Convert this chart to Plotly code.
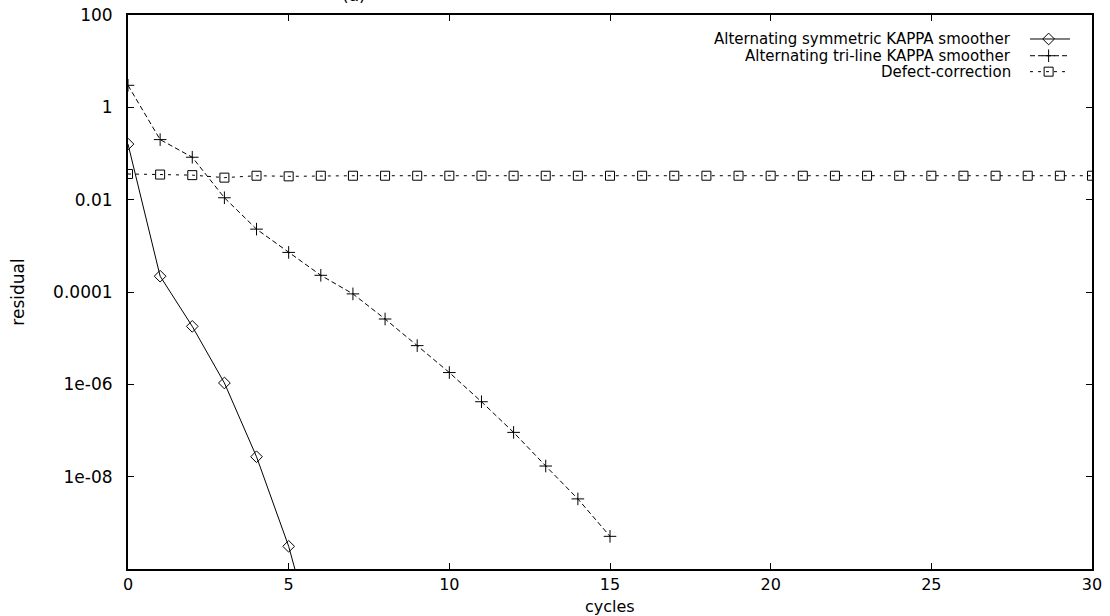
import plotly.graph_objects as go

# ---- data ----
cycles_sym = [0, 1, 2, 3, 4, 5, 6]
res_sym = [0.16, 2.2e-4, 1.8e-5, 1.07e-6, 2.7e-8, 3.1e-10, 9e-13]

cycles_tri = list(range(0, 16))
res_tri = [3.0, 0.20, 0.083, 0.011, 2.3e-3, 7.2e-4, 2.3e-4, 9.1e-5, 2.6e-5,
           6.9e-6, 1.8e-6, 4.2e-7, 9.1e-8, 1.7e-8, 3.3e-9, 5.1e-10]

cycles_def = list(range(0, 31))
res_def = [0.036, 0.035, 0.034, 0.030, 0.033, 0.032, 0.033, 0.033, 0.033, 0.033,
           0.033, 0.033, 0.033, 0.033, 0.033, 0.033, 0.033, 0.033, 0.033, 0.033,
           0.033, 0.033, 0.033, 0.033, 0.033, 0.033, 0.033, 0.033, 0.033, 0.033, 0.033]

series_names = ["Alternating symmetric KAPPA smoother",
                "Alternating tri-line KAPPA smoother",
                "Defect-correction"]

x_ticks = [0, 5, 10, 15, 20, 25, 30]
y_tickvals = [100, 1, 0.01, 1e-4, 1e-6, 1e-8]
y_ticktext = ["100", "1", "0.01", "0.0001", "1e-06", "1e-08"]

# ---- styling ----
FONT = "DejaVu Sans"
FS = 17
XFS = 16
KEY_FS = 15
styles = [
    dict(dash="solid", symbol="diamond-open", size=9),
    dict(dash="5px,3px", symbol="cross-thin-open", size=9),
    dict(dash="3px,5px", symbol="square-open", size=9),
]

fig = go.Figure()
for (xs, ys), name, st in zip([(cycles_sym, res_sym), (cycles_tri, res_tri), (cycles_def, res_def)],
                              series_names, styles):
    fig.add_trace(go.Scatter(
        x=xs, y=ys, mode="lines+markers", name=name, showlegend=False,
        line=dict(color="black", width=1, dash=st["dash"]),
        marker=dict(symbol=st["symbol"], size=st["size"], color="black",
                    line=dict(color="black", width=1)),
        cliponaxis=True,
    ))

# ---- gnuplot-style key (text left of sample) on an overlay axis ----
key_line_x0, key_line_x1, key_mark_x = 0.9357, 0.9772, 0.955
key_text_x = 0.918
key_rows = [0.9567, 0.9265, 0.8977]
for name, st, ky in zip(series_names, styles, key_rows):
    fig.add_trace(go.Scatter(
        x=[key_line_x0, key_line_x1], y=[ky, ky], mode="lines", xaxis="x2", yaxis="y2",
        showlegend=False, hoverinfo="skip",
        line=dict(color="black", width=1, dash=st["dash"]),
    ))
    fig.add_trace(go.Scatter(
        x=[key_mark_x], y=[ky], mode="markers", xaxis="x2", yaxis="y2",
        showlegend=False, hoverinfo="skip",
        marker=dict(symbol=st["symbol"], size=st["size"], color="black",
                    line=dict(color="black", width=1)),
    ))
    fig.add_annotation(x=key_text_x, y=ky, xref="paper", yref="paper",
                       text=name, showarrow=False, xanchor="right", yanchor="middle",
                       font=dict(family=FONT, size=KEY_FS, color="black"))

# title, mostly above the page edge as in the reference
fig.add_annotation(x=0.2344, y=1.0144, xref="paper", yref="paper", text="(a)",
                   showarrow=False, xanchor="center", yanchor="bottom",
                   font=dict(family=FONT, size=FS, color="black"))

# x-axis title
fig.add_annotation(x=0.5, y=-0.0668, xref="paper", yref="paper", text="cycles",
                   showarrow=False, xanchor="center", yanchor="middle",
                   font=dict(family=FONT, size=XFS, color="black"))

axis_common = dict(showline=True, linecolor="black", linewidth=2, mirror="allticks",
                   ticks="inside", ticklen=6, tickwidth=1, tickcolor="black",
                   showgrid=False, zeroline=False, automargin=False)

fig.update_layout(
    width=1110, height=616,
    margin=dict(l=128, r=18, t=15, b=47),
    paper_bgcolor="white", plot_bgcolor="white",
    font=dict(family=FONT, size=FS, color="black"),
    xaxis=dict(range=[0, 30], tickvals=x_ticks, ticklabelstandoff=0,
               tickfont=dict(family=FONT, size=XFS, color="black"), **axis_common),
    yaxis=dict(type="log", range=[-10, 2], tickvals=y_tickvals, ticktext=y_ticktext,
               ticklabelstandoff=10, tickfont=dict(family=FONT, size=FS, color="black"),
               title=dict(text="residual", standoff=24, font=dict(family=FONT, size=FS)),
               **axis_common),
    xaxis2=dict(range=[0, 1], domain=[0, 1], overlaying="x", visible=False, fixedrange=True),
    yaxis2=dict(range=[0, 1], domain=[0, 1], overlaying="y", visible=False, fixedrange=True),
    showlegend=False,
)

fig.write_html("out.html")
